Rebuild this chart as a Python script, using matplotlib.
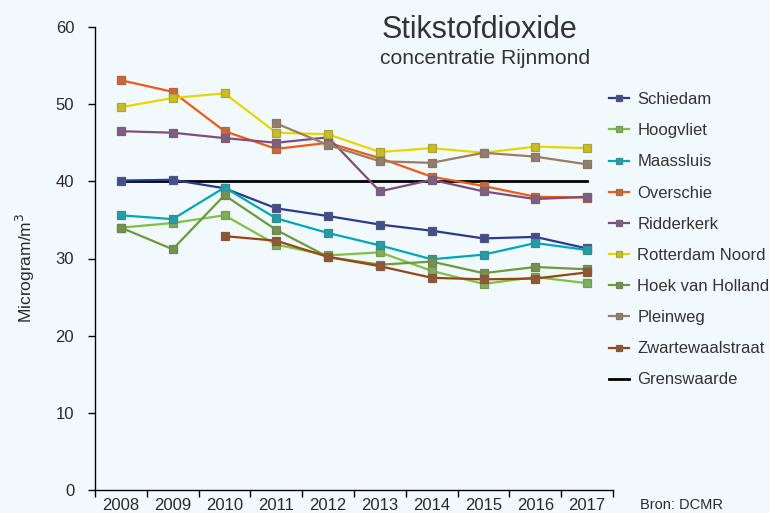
import matplotlib
matplotlib.use("Agg")
import matplotlib.pyplot as plt
import matplotlib.colors as mcolors
import numpy as np

plt.rcParams['font.family'] = ['Liberation Sans', 'DejaVu Sans']

years = ["2008", "2009", "2010", "2011", "2012", "2013", "2014", "2015", "2016", "2017"]

schiedam = [40.1, 40.2, 39.1, 36.5, 35.5, 34.4, 33.6, 32.6, 32.8, 31.3]
hoogvliet = [34.0, 34.6, 35.6, 31.8, 30.4, 30.8, 28.4, 26.7, 27.6, 26.8]
maassluis = [35.6, 35.1, 39.2, 35.2, 33.3, 31.7, 29.9, 30.5, 32.0, 31.1]
overschie = [53.1, 51.6, 46.5, 44.2, 45.0, 43.0, 40.6, 39.4, 38.0, 37.9]
ridderkerk = [46.5, 46.3, 45.6, 45.0, 45.7, 38.7, 40.2, 38.7, 37.7, 38.0]
rotterdam_noord = [49.6, 50.8, 51.4, 46.3, 46.1, 43.8, 44.3, 43.7, 44.5, 44.3]
hoek_van_holland = [34.0, 31.2, 38.2, 33.7, 30.2, 29.2, 29.6, 28.1, 28.9, 28.6]
pleinweg = [None, None, None, 47.5, 44.7, 42.6, 42.4, 43.7, 43.2, 42.2]
zwartewaalstraat = [None, None, 32.9, 32.3, 30.2, 29.0, 27.5, 27.3, 27.4, 28.2]
grenswaarde = [40] * 10

series = [
    ("Schiedam", schiedam, "#2B3990"),
    ("Hoogvliet", hoogvliet, "#7DC242"),
    ("Maassluis", maassluis, "#00A9B7"),
    ("Overschie", overschie, "#F15A13"),
    ("Ridderkerk", ridderkerk, "#7E4F7E"),
    ("Rotterdam Noord", rotterdam_noord, "#E5D800"),
    ("Hoek van Holland", hoek_van_holland, "#6D9A3A"),
    ("Pleinweg", pleinweg, "#9A7D62"),
    ("Zwartewaalstraat", zwartewaalstraat, "#984414"),
]

bg = "#F2F9FD"
txt = "#2A2A2A"
fig = plt.figure(figsize=(7.7, 5.13), dpi=100, facecolor=bg)
ax = fig.add_axes([95/770, 23/513, 518/770, 463/513])
ax.set_facecolor(bg)

def mix(c, g, t):
    a = np.array(mcolors.to_rgb(c)); b = np.array(mcolors.to_rgb(g))
    return tuple(a * (1 - t) + b * t)

x = np.arange(len(years))
for name, vals, col in series:
    v = np.array([np.nan if a is None else a for a in vals], dtype=float)
    ax.plot(x, v, color=col, lw=1.6, marker='s', markersize=6,
            markerfacecolor=mix(col, "#808080", 0.3),
            markeredgecolor=mix(col, "#707070", 0.5), markeredgewidth=0.9,
            label=name, zorder=3)
ax.plot(x, grenswaarde, color="black", lw=2.0, label="Grenswaarde", zorder=2)

ax.set_xlim(-0.5, len(years) - 0.5)
ax.set_ylim(0, 60)
ax.set_yticks(range(0, 61, 10))
ax.set_xticks(x)
ax.set_xticklabels(years)
ax.set_xticks(np.arange(-0.5, len(years)), minor=True)
ax.tick_params(axis='x', which='major', length=0, labelsize=12, pad=6)
ax.tick_params(axis='x', which='minor', length=5, width=1, direction='out', color="black")
ax.tick_params(axis='y', length=5, width=1, direction='out', labelsize=12, pad=10)
for lab in ax.get_xticklabels() + ax.get_yticklabels():
    lab.set_color(txt)
ax.spines['top'].set_visible(False)
ax.spines['right'].set_visible(False)
ax.spines['left'].set_linewidth(1)
ax.spines['bottom'].set_linewidth(1)
ax.set_ylabel("Microgram/m$^3$", fontsize=12.5, color=txt)
ax.yaxis.set_label_coords(-0.112, 0.48)

fig.text(479/770, 1 - 30/513, "Stikstofdioxide", fontsize=22, ha='center', va='center', color="#333333")
fig.text(485/770, 1 - 59/513, "concentratie Rijnmond", fontsize=15.2, ha='center', va='center', color="#333333")
fig.text(681/770, 1 - 505/513, "Bron: DCMR", fontsize=10.5, ha='center', va='center', color=txt)

leg = fig.legend(loc='upper left', bbox_to_anchor=(594/770, 1 - 77/513), frameon=False,
                 fontsize=12, handlelength=1.2, labelspacing=0.97, handletextpad=0.5,
                 markerscale=0.75)
for t in leg.get_texts():
    t.set_color("#333333")

fig.savefig("out.png", dpi=100, facecolor=bg)
